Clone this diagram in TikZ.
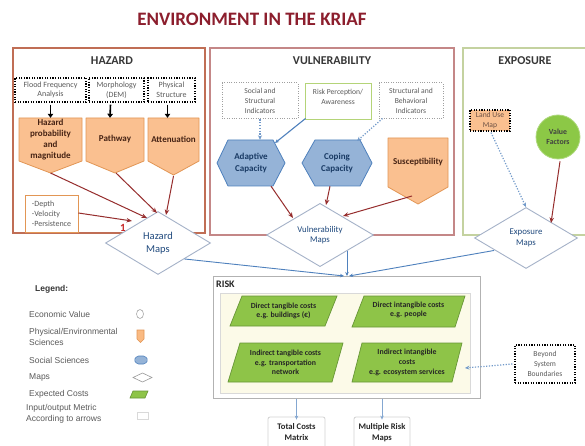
\documentclass[tikz,border=0pt]{standalone}
\usepackage{fontspec}
\setmainfont{Carlito}
\newfontfamily\legendfont{Liberation Sans}
\usetikzlibrary{arrows.meta,shapes.geometric}

\definecolor{titlered}{RGB}{140,30,45}
\definecolor{hazline}{RGB}{192,110,85}
\definecolor{vulline}{RGB}{196,135,135}
\definecolor{expline}{RGB}{196,210,160}
\definecolor{orfill}{RGB}{250,192,144}
\definecolor{orline}{RGB}{226,150,85}
\definecolor{blfill}{RGB}{149,179,215}
\definecolor{blline}{RGB}{79,129,189}
\definecolor{grfill}{RGB}{142,196,72}
\definecolor{grline}{RGB}{104,150,55}
\definecolor{circfill}{RGB}{140,200,70}
\definecolor{arrred}{RGB}{150,45,45}
\definecolor{mapline}{RGB}{165,178,200}
\definecolor{maptext}{RGB}{31,73,125}
\definecolor{cream}{RGB}{252,250,232}
\definecolor{darktxt}{RGB}{55,55,55}
\definecolor{softtxt}{RGB}{90,90,90}
\definecolor{brtxt}{RGB}{70,35,20}

\newcommand\fsz[2]{\fontsize{#1}{#2}\selectfont}

\begin{document}
\begin{tikzpicture}[x=1pt,y=-1pt,
  panel/.style={draw, line width=1.1pt, minimum width=#1, inner sep=0},
  sectitle/.style={font=\bfseries\fsz{12}{14}, text=darktxt},
  hdot/.style={draw=black, line width=1.2pt, dash pattern=on 1.2pt off 1.4pt,
    font=\fsz{8}{9.6}, text=softtxt, align=center, inner sep=0},
  vdot/.style={draw=gray!75, line width=1pt, dash pattern=on 1pt off 1.4pt,
    font=\fsz{7.6}{9.8}, text=softtxt, align=center, inner sep=0},
  orshape/.style={fill=orfill, draw=orline, line width=0.8pt, line join=round},
  blshape/.style={fill=blfill, draw=blline, line width=0.8pt, line join=round},
  grshape/.style={fill=grfill, draw=grline, line width=0.7pt},
  bodylbl/.style={font=\bfseries\fsz{9}{11.2}, text=brtxt, align=center, inner sep=0},
  bllbl/.style={font=\bfseries\fsz{9}{11.2}, text=maptext!80!black, align=center, inner sep=0},
  grlbl/.style={font=\bfseries\fsz{7.8}{9.6}, text=black!85, align=center, inner sep=0},
  mapd/.style={diamond, draw=mapline, fill=white, line width=0.9pt, inner sep=0,
    text=maptext, align=center},
  redarr/.style={draw=arrred, line width=1pt, -{Stealth[length=5.5pt,width=4.5pt]}},
  blkarr/.style={draw=black, line width=1.6pt, -{Triangle[length=4pt,width=5.5pt]}},
  bdotarr/.style={draw=blline!80, line width=1.2pt, dash pattern=on 1.2pt off 1.6pt,
    -{Stealth[length=4.5pt,width=4pt]}},
  blarr/.style={draw=blline, line width=0.9pt, -{Stealth[length=4pt,width=3.5pt]}},
  outbox/.style={draw=gray!35, line width=0.8pt, rounded corners=2pt, inner sep=0,
    font=\bfseries\fsz{8.6}{11}, text=black!85, align=center},
  legtxt/.style={font=\legendfont\fsz{8.5}{10.5}, text=softtxt, anchor=west, inner sep=0, align=left},
  legsym/.style={line width=0.6pt}
]
\useasboundingbox (0,0) rectangle (585,446);
\fill[white] (0,0) rectangle (585,446);

% ---------- title ----------
\node[font=\bfseries\fsz{19}{22}, text=titlered] (title) at (252,19) {ENVIRONMENT IN THE KRIAF};

% ---------- panels ----------
\node[panel=192, draw=hazline, minimum height=185] (hazpanel) at (109,140.5) {};
\node[panel=244, draw=vulline, minimum height=187] (vulpanel) at (332,141.5) {};
\node[panel=127, draw=expline, minimum height=187] (exppanel) at (526.5,141.5) {};
\node[sectitle] (haztitle) at (112,61) {HAZARD};
\node[sectitle] (vultitle) at (332,61) {VULNERABILITY};
\node[sectitle] (exptitle) at (525,61) {EXPOSURE};

% ---------- hazard ----------
\node[hdot, minimum width=71, minimum height=24] (ffa) at (50.5,90) {Flood Frequency\\Analysis};
\node[hdot, minimum width=55, minimum height=24] (dem) at (116.5,90) {Morphology\\(DEM)};
\node[hdot, minimum width=47, minimum height=24] (phys) at (171.5,90) {Physical\\Structure};

\filldraw[orshape] (19,118) -- (82,118) -- (82,161) -- (50.5,173) -- (19,161) -- cycle;
\filldraw[orshape] (86,118) -- (144,118) -- (144,161) -- (115,173) -- (86,161) -- cycle;
\filldraw[orshape] (148,118) -- (199,118) -- (199,161) -- (173.5,175) -- (148,161) -- cycle;
\node[bodylbl, minimum width=63, minimum height=43] (hprob) at (50.5,139.5) {Hazard\\probability\\and\\magnitude};
\node[bodylbl, minimum width=58, minimum height=43] (path) at (115,139.5) {Pathway};
\node[bodylbl, minimum width=51, minimum height=43] (atten) at (173.5,139.5) {Attenuation};
\coordinate (hprob-tip) at (50.5,173);
\coordinate (path-tip) at (116,173);
\coordinate (atten-tip) at (173.5,176);

\draw[blkarr] (ffa.south) ++(0,2) -- (hprob.north);
\draw[blkarr] (dem.south) ++(-6,2) -- ([xshift=-5pt]path.north);
\draw[blkarr] (phys.south) ++(-4,2) -- ([xshift=-6pt]atten.north);

\node[draw=orline, line width=0.8pt, minimum width=53, minimum height=37, inner sep=0,
  font=\fsz{8}{10}, text=softtxt, align=left] (dvp) at (51.5,213.5)
  {-Depth\\-Velocity\\-Persistence};

% ---------- vulnerability ----------
\node[vdot, minimum width=76, minimum height=36] (ssi) at (260,101) {Social and\\Structural\\Indicators};
\node[draw={rgb,255:red,180;green,212;blue,120}, line width=0.9pt, minimum width=66, minimum height=36,
  inner sep=0, font=\fsz{7.6}{9.8}, text=softtxt, align=center] (rpa) at (338,101) {};
\node[font=\fsz{7.6}{9.8}, text=softtxt, align=center, inner sep=0] (rpatxt) at (338,97) {Risk Perception/\\Awareness};
\node[vdot, minimum width=64, minimum height=36] (sbi) at (411,101) {Structural and\\Behavioral\\Indicators};

\filldraw[blshape] (217,163) -- (228,140) -- (273,140) -- (285,163) -- (273,186) -- (228,186) -- cycle;
\filldraw[blshape] (302,163) -- (315,140) -- (360,140) -- (372,163) -- (360,186) -- (315,186) -- cycle;
\filldraw[orshape] (388,138) -- (448,138) -- (448,187) -- (418,204) -- (388,187) -- cycle;
\node[bllbl, minimum width=56, minimum height=46] (adapt) at (251,163) {Adaptive\\Capacity};
\node[bllbl, minimum width=56, minimum height=46] (coping) at (337,163) {Coping\\Capacity};
\node[bodylbl, minimum width=60, minimum height=49] (suscep) at (418,162.5) {Susceptibility};
\coordinate (suscep-tip) at (412,196);

\draw[bdotarr] (ssi.south) -- (ssi.south |- adapt.north);
\draw[blarr, line width=1.1pt] (rpa.south west) ++(1,-1) -- (275,143);
\draw[bdotarr] (sbi.south west) ++(4,-1) -- (357,141);

% ---------- exposure ----------
\node[draw=black, line width=1.2pt, dash pattern=on 1.2pt off 1.4pt, fill=orfill,
  minimum width=40, minimum height=21, inner sep=0, font=\fsz{7.6}{9.4}, text=brtxt!80,
  align=center] (landuse) at (490,120.5) {Land Use\\Map};
\node[circle, fill=circfill, draw=circfill!70!white, line width=0.8pt, minimum size=44, inner sep=0,
  font=\bfseries\fsz{7.8}{9.6}, text=black!75, align=center] (value) at (558,137) {Value\\Factors};

% ---------- maps ----------
\node[mapd, minimum width=105, minimum height=63, font=\fsz{10.5}{12.5}] (hzmap) at (158,243) {Hazard\\Maps};
\node[mapd, minimum width=107, minimum height=62, font=\fsz{8.8}{10.6}] (vmap) at (320,235) {Vulnerability\\Maps};
\node[mapd, minimum width=103, minimum height=61, font=\fsz{8.8}{10.6}] (emap) at (526,238) {Exposure\\Maps};

\node[font=\bfseries\fsz{11}{12}, text={rgb,255:red,200;green,40;blue,40}] (one) at (123,228) {1};

% arrows into the maps
\draw[redarr] (hprob-tip) -- (147,218);
\draw[redarr] (path-tip) -- (157,213);
\draw[redarr] (atten-tip) -- (166,215);
\draw[redarr] (dvp.east |- 0,213) -- (132,221);

\draw[redarr] (adapt.south) ++(20,0) -- (293,218);
\draw[redarr] (coping.south) ++(-7,0) -- (326,205);
\draw[redarr] (suscep-tip) -- (343,216);

\draw[bdotarr] (landuse.south) ++(1,1) -- (emap.north);
\draw[redarr] (value.south) ++(2,2) -- (551,223);

% ---------- risk ----------
\node[draw=gray!60, line width=1pt, minimum width=267, minimum height=122, inner sep=0] (risk) at (346.5,337) {};
\node[font=\bfseries\fsz{10}{12}, text=black!85, anchor=west, inner sep=0] (risktitle) at (216,284) {RISK};
\node[fill=cream, draw=gray!30, line width=0.6pt, minimum width=250, minimum height=100, inner sep=0] (costs) at (345,343) {};

\filldraw[grshape] (230,326) -- (242,296) -- (337,296) -- (325,326) -- cycle;
\filldraw[grshape] (352,327) -- (364,296) -- (465,296) -- (455,327) -- cycle;
\filldraw[grshape] (228,382) -- (240,343) -- (343,343) -- (332,382) -- cycle;
\filldraw[grshape] (352,382) -- (362,343) -- (462,343) -- (452,382) -- cycle;
\node[grlbl] (dtc) at (283.5,311) {Direct tangible costs\\e.g. buildings (€)};
\node[grlbl] (dic) at (408.5,310) {Direct intangible costs\\e.g. people};
\node[grlbl] (itc) at (285.5,362.5) {Indirect tangible costs\\e.g. transportation\\network};
\node[grlbl] (iic) at (407,362.5) {Indirect intangible\\costs\\e.g. ecosystem services};

\node[hdot, minimum width=60, minimum height=38, font=\fsz{7.6}{9.8}] (beyond) at (545,364) {Beyond\\System\\Boundaries};
\coordinate (iic-edge) at (465,368);
\draw[bdotarr] (beyond.west) ++(-2,0) -- (iic-edge);

% maps feed the risk assessment
\coordinate (rjoin) at (346,276);
\draw[blarr] (hzmap.south east) -- ([xshift=-2pt]rjoin);
\draw[blarr] (vmap.south east) -- (vmap.south east |- rjoin);
\draw[blarr] (emap.south west) ++(-6,-3) -- ([xshift=3pt]rjoin);

% ---------- outputs ----------
\node[outbox, minimum width=57, minimum height=31] (tcm) at (296.5,432.5) {Total Costs\\Matrix};
\node[outbox, minimum width=56, minimum height=31] (mrm) at (382,432.5) {Multiple Risk\\Maps};
\draw[blarr, line width=0.6pt, draw=blline!70] (tcm.north |- risk.south) -- ([yshift=-3pt]tcm.north);
\draw[blarr, line width=0.6pt, draw=blline!70] (mrm.north |- risk.south) -- ([yshift=-3pt]mrm.north);

% ---------- legend ----------
\node[font=\legendfont\bfseries\fsz{8.5}{10}, text=darktxt, anchor=west, inner sep=0] (legend) at (35,289) {Legend:};
\node[legtxt] (lg1) at (29,314) {Economic Value};
\node[legtxt] (lg2) at (29,337) {Physical/Environmental\\Sciences};
\node[legtxt] (lg3) at (29,360) {Social Sciences};
\node[legtxt] (lg4) at (29,377) {Maps};
\node[legtxt] (lg5) at (29,394) {Expected Costs};
\node[legtxt] (lg6) at (26,414) {Input/output Metric\\According to arrows};

\draw[legsym, draw=gray!70, fill=white] (140,314) ellipse (3.5pt and 4.5pt);
\filldraw[legsym, fill=orfill!90!orange, draw=orline] (137,330) -- (144,330) -- (144,339) -- (140.5,342.5) -- (137,339) -- cycle;
\filldraw[legsym, fill=blfill, draw=blline, rounded corners=1.5pt] (134,360) -- (137,356) -- (145,356) -- (148,360) -- (145,364) -- (137,364) -- cycle;
\filldraw[legsym, fill=white, draw=gray!80] (133,377.5) -- (142.5,373) -- (152,377.5) -- (142.5,382) -- cycle;
\filldraw[legsym, fill=grfill, draw=grline] (130,398) -- (133,391) -- (148,391) -- (145,398) -- cycle;
\filldraw[legsym, fill=white, draw=gray!30] (137,412) rectangle (148,419);
\end{tikzpicture}
\end{document}
